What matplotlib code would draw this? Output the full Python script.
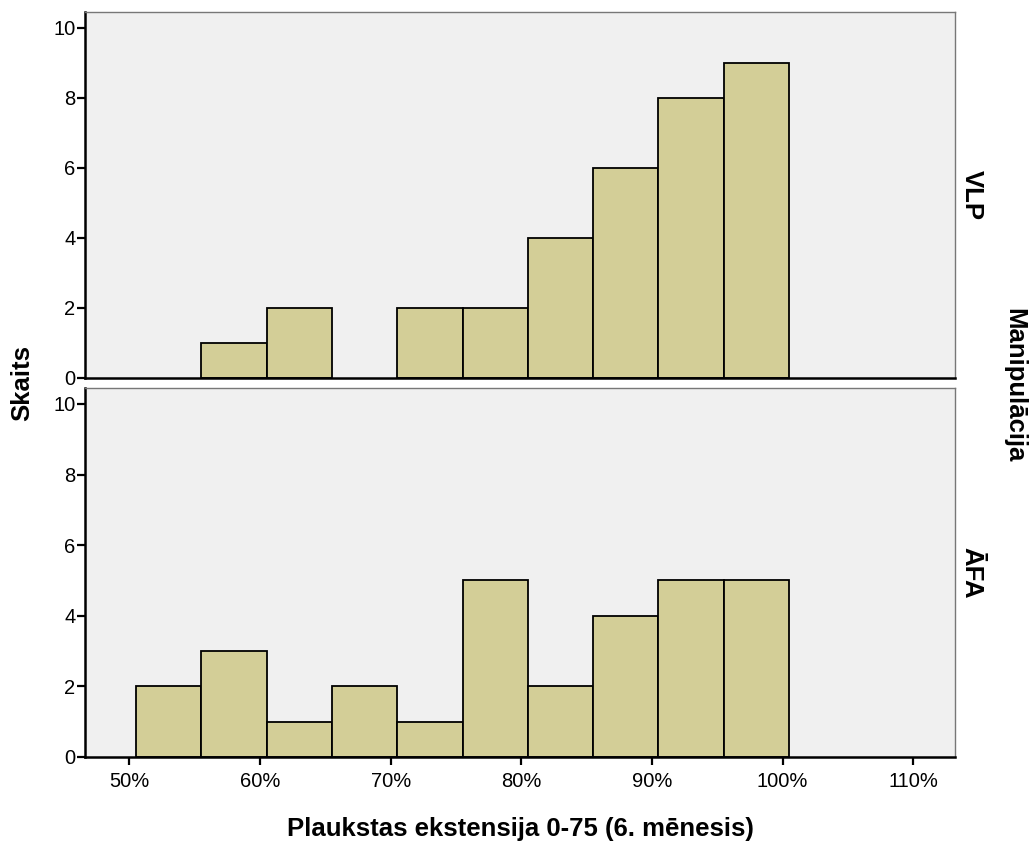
import numpy as np
import matplotlib
matplotlib.use("Agg")
import matplotlib.pyplot as plt
from matplotlib.ticker import FuncFormatter

plt.rcParams['font.family'] = ['Liberation Sans', 'DejaVu Sans']

# Histogram bins (percent), 5-point wide
bin_edges = [50.5, 55.5, 60.5, 65.5, 70.5, 75.5, 80.5, 85.5, 90.5, 95.5, 100.5]
groups = ["VLP", "ĀFA"]
counts_vlp = [0, 1, 2, 0, 2, 2, 4, 6, 8, 9]
counts_afa = [2, 3, 1, 2, 1, 5, 2, 4, 5, 5]
x_ticks = [50, 60, 70, 80, 90, 100, 110]
y_ticks = [0, 2, 4, 6, 8, 10]

bar_color = "#D3CE97"
bg_color = "#F0F0F0"
frame_gray = "#777777"

fig = plt.figure(figsize=(10.32, 8.48), dpi=100)
W, H = 1032, 848
left, right = 85 / W, 955 / W
panels = [(12, 378), (388, 757)]

axes = []
for (top_px, bot_px), counts, name in zip(panels, [counts_vlp, counts_afa], groups):
    ax = fig.add_axes([left, 1 - bot_px / H, right - left, (bot_px - top_px) / H])
    ax.set_facecolor(bg_color)
    edges = np.array(bin_edges)
    widths = np.diff(edges)
    c = np.array(counts)
    mask = c > 0
    ax.bar(edges[:-1][mask], c[mask], width=widths[mask], align="edge",
           color=bar_color, edgecolor="black", linewidth=1.3, zorder=2)
    ax.set_xlim(46.6, 113.2)
    ax.set_ylim(0, 10.45)
    ax.set_yticks(y_ticks)
    ax.set_xticks(x_ticks)
    ax.tick_params(axis="y", direction="out", length=6, width=1.6, labelsize=14.5, pad=1)
    ax.tick_params(axis="x", direction="out", length=6, width=1.6, labelsize=14.5, pad=5)
    for s in ["left", "bottom"]:
        ax.spines[s].set_linewidth(1.8)
        ax.spines[s].set_color("black")
    for s in ["top", "right"]:
        ax.spines[s].set_linewidth(1.0)
        ax.spines[s].set_color(frame_gray)
    ax.text(1.005, 0.5, name, transform=ax.transAxes, rotation=-90,
            ha="left", va="center", fontsize=18.5, fontweight="bold")
    axes.append(ax)

axes[0].tick_params(axis="x", bottom=False, labelbottom=False)
axes[1].xaxis.set_major_formatter(FuncFormatter(lambda v, p: f"{v:.0f}%"))

fig.text(22 / W, 1 - 383 / H, "Skaits", rotation=90, ha="center", va="center",
         fontsize=18.5, fontweight="bold")
fig.text(1014 / W, 1 - 385 / H, "Manipulācija", rotation=-90, ha="center", va="center",
         fontsize=18.5, fontweight="bold")
fig.text((left + right) / 2, 1 - 829 / H, "Plaukstas ekstensija 0-75 (6. mēnesis)",
         ha="center", va="center", fontsize=18.5, fontweight="bold")

fig.savefig("out.png", dpi=100, facecolor="white")
